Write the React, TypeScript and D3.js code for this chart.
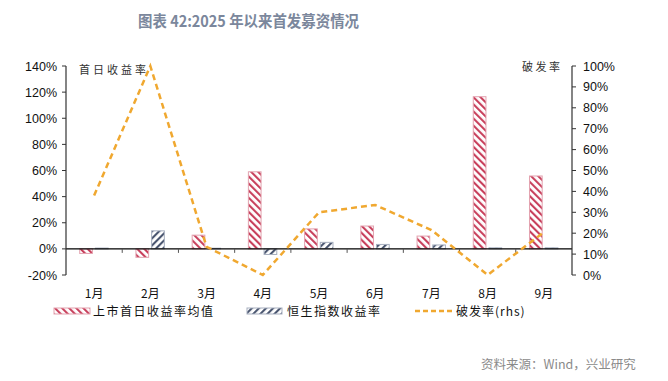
import React from "react";
import * as d3 from "d3";

const months = ["1月", "2月", "3月", "4月", "5月", "6月", "7月", "8月", "9月"];
const ipoFirstDay = [-3.5, -6.5, 10.5, 59, 15.3, 17.5, 9.8, 116.5, 55.8];
const hsiReturn = [0.6, 13.8, 0.5, -4.3, 5.0, 3.4, 3.0, 0.8, 0.8];
const breakRate = [38, 100, 13.5, 0, 30, 33.5, 21.5, 0, 20.5];
const leftTicks = [-20, 0, 20, 40, 60, 80, 100, 120, 140];
const rightTicks = [0, 10, 20, 30, 40, 50, 60, 70, 80, 90, 100];

const W = 668, H = 381;
const x0 = 66, x1 = 572, yTop = 66, yBot = 275;
const cjk = "'Noto Sans CJK SC', 'DejaVu Sans', sans-serif";
const num = "'Liberation Sans', Arial, sans-serif";

export default function App() {
  const x = d3.scaleBand<string>().domain(months).range([x0, x1]);
  const yL = d3.scaleLinear().domain([-20, 140]).range([yBot, yTop]);
  const yR = d3.scaleLinear().domain([0, 100]).range([yBot, yTop]);
  const bw = 12.7;
  const line = d3
    .line<number>()
    .x((_, i) => (x(months[i]) as number) + x.bandwidth() / 2)
    .y((d) => yR(d));
  const zero = yL(0);
  const barRect = (v: number) => ({ y: Math.min(yL(v), zero), h: Math.abs(yL(v) - zero) });

  return (
    <div style={{ position: "absolute", left: 0, top: 0 }}>
      <svg width={W} height={H} style={{ display: "block", background: "#fff" }}>
        <defs>
          <pattern id="redHatch" patternUnits="userSpaceOnUse" width="5" height="5" patternTransform="rotate(-45)">
            <rect width="5" height="5" fill="#fff" />
            <rect x="0" width="2.1" height="5" fill="#C8405C" />
          </pattern>
          <pattern id="blueHatch" patternUnits="userSpaceOnUse" width="5" height="5" patternTransform="rotate(45)">
            <rect width="5" height="5" fill="#fff" />
            <rect x="0" width="2.1" height="5" fill="#4A5670" />
          </pattern>
        </defs>

        <text x={138} y={27} fontFamily={cjk} fontSize={15.5} fontWeight={700} fill="#7B879C"
          textLength={221} lengthAdjust="spacingAndGlyphs">
          图表 42:2025 年以来首发募资情况
        </text>

        {/* bars */}
        {ipoFirstDay.map((v, i) => {
          const c = (x(months[i]) as number) + x.bandwidth() / 2;
          const r = barRect(v);
          return (
            <rect key={"r" + i} x={c - 14.4} y={r.y} width={bw} height={r.h}
              fill="url(#redHatch)" stroke="#E3A3B0" strokeWidth={1} />
          );
        })}
        {hsiReturn.map((v, i) => {
          const c = (x(months[i]) as number) + x.bandwidth() / 2;
          const r = barRect(v);
          return (
            <rect key={"b" + i} x={c + 1.3} y={r.y} width={bw} height={r.h}
              fill="url(#blueHatch)" stroke="#A7AFBF" strokeWidth={1} />
          );
        })}

        {/* zero line and x ticks */}
        <line x1={x0} x2={x1} y1={zero} y2={zero} stroke="#000" strokeWidth={1.2} />
        {months.map((m, i) => (
          i > 0 ? <line key={"xt" + i} x1={x(m)} x2={x(m)} y1={zero} y2={zero + 4} stroke="#555" /> : null
        ))}
        {months.map((m) => (
          <text key={"xl" + m} x={(x(m) as number) + x.bandwidth() / 2} y={298} textAnchor="middle"
            fontFamily={cjk} fontSize={12} fill="#111">{m}</text>
        ))}

        {/* left axis */}
        <line x1={x0} x2={x0} y1={yTop} y2={yBot} stroke="#333" strokeWidth={1.2} />
        {leftTicks.map((t) => (
          <g key={"lt" + t}>
            <line x1={x0 - 4} x2={x0} y1={yL(t)} y2={yL(t)} stroke="#333" />
            <text x={x0 - 9} y={yL(t) + 4.5} textAnchor="end" fontFamily={num} fontSize={12.5} fill="#111">{t}%</text>
          </g>
        ))}

        {/* right axis */}
        <line x1={x1} x2={x1} y1={yTop} y2={yBot} stroke="#333" strokeWidth={1.2} />
        {rightTicks.map((t) => (
          <g key={"rt" + t}>
            <line x1={x1} x2={x1 + 4} y1={yR(t)} y2={yR(t)} stroke="#333" />
            <text x={x1 + 11} y={yR(t) + 4.5} textAnchor="start" fontFamily={num} fontSize={12.5} fill="#111">{t}%</text>
          </g>
        ))}

        <text x={79} y={74} fontFamily={cjk} fontSize={11} fill="#333" letterSpacing={3}>首日收益率</text>
        <text x={522} y={71} fontFamily={cjk} fontSize={11} fill="#333" letterSpacing={2.5}>破发率</text>

        {/* break rate line */}
        <path d={line(breakRate) || ""} fill="none" stroke="#F0A830" strokeWidth={2.5} strokeDasharray="6,4" />

        {/* legend */}
        <rect x={54} y={308} width={36} height={6} fill="url(#redHatch)" stroke="#E3A3B0" />
        <text x={93} y={316} fontFamily={cjk} fontSize={12} fill="#111" letterSpacing={1.5}>上市首日收益率均值</text>
        <rect x={247} y={308} width={35} height={6} fill="url(#blueHatch)" stroke="#A7AFBF" />
        <text x={287} y={316} fontFamily={cjk} fontSize={12} fill="#111" letterSpacing={1.5}>恒生指数收益率</text>
        <line x1={415} x2={453} y1={311} y2={311} stroke="#F0A830" strokeWidth={2.5} strokeDasharray="5,3" />
        <text x={456} y={316} fontFamily={cjk} fontSize={12} fill="#111" letterSpacing={1}>破发率(rhs)</text>

        <text x={481} y={369} fontFamily={cjk} fontSize={12.5} fill="#8A8A8A">资料来源：Wind，兴业研究</text>
      </svg>
    </div>
  );
}
